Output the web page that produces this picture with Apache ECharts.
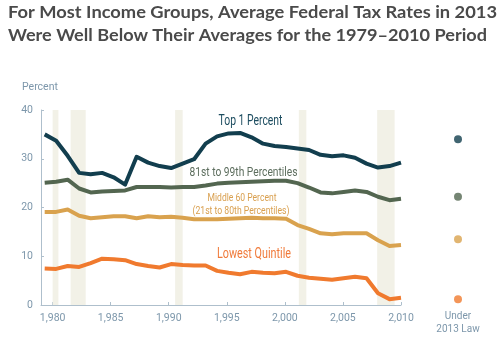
<!DOCTYPE html>
<html><head><meta charset="utf-8">
<script src="https://cdn.jsdelivr.net/npm/echarts@6/dist/echarts.min.js"></script>
<style>html,body{margin:0;padding:0;background:#fff}#c{width:504px;height:341px}</style>
</head><body><div id="c"></div>
<script>
const years = [1979,1980,1981,1982,1983,1984,1985,1986,1987,1988,1989,1990,1991,1992,1993,1994,1995,1996,1997,1998,1999,2000,2001,2002,2003,2004,2005,2006,2007,2008,2009,2010];
const top1 = [35.0,33.7,30.6,27.1,26.8,27.1,26.2,24.7,30.4,29.2,28.5,28.1,29.0,29.9,33.1,34.6,35.2,35.3,34.4,33.1,32.6,32.4,32.1,31.8,30.8,30.5,30.7,30.2,29.0,28.2,28.5,29.2];
const p81to99 = [25.1,25.3,25.7,23.9,23.1,23.3,23.4,23.5,24.2,24.2,24.2,24.1,24.2,24.2,24.5,24.9,25.1,25.2,25.3,25.4,25.5,25.5,25.0,24.1,23.1,22.9,23.2,23.5,23.2,22.2,21.5,21.8];
const middle60 = [19.1,19.1,19.6,18.3,17.8,18.0,18.2,18.2,17.8,18.2,18.0,18.1,17.9,17.6,17.6,17.6,17.7,17.8,17.9,17.8,17.8,17.7,16.4,15.6,14.7,14.5,14.7,14.7,14.7,13.3,12.1,12.3];
const lowest = [7.5,7.4,8.0,7.8,8.6,9.5,9.4,9.2,8.4,8.0,7.7,8.4,8.2,8.1,8.1,7.0,6.6,6.3,6.8,6.6,6.5,6.8,6.0,5.6,5.4,5.2,5.5,5.8,5.5,2.4,1.2,1.5];
const under2013 = [34.0, 22.2, 13.5, 1.2];
const under2013Label = ['Under\n2013 Law'];
const xTicks = [1980,1985,1990,1995,2000,2005,2010];
const recessions = [[1980.0,1980.5],[1981.55,1982.85],[1990.55,1991.2],[2001.2,2001.85],[2007.95,2009.45]];
const titleLines = ['For Most Income Groups, Average Federal Tax Rates in 2013','Were Well Below Their Averages for the 1979\u20132010 Period'];

const colors = ['#123e4e','#536650','#d9a24e','#f07a2e'];
const axisColor = '#aebfcc';
const labelColor = '#7d97ab';
const ff = "Roboto,sans-serif";

const mctx = document.createElement('canvas').getContext('2d');
function fit(text, font, w){ mctx.font = font; return w / mctx.measureText(text).width; }
function label(text, cx, cy, size, w, fill, weight){
  const font = (weight||'normal') + ' ' + size + 'px ' + ff;
  return {type:'text', x:cx, y:cy, scaleX:fit(text, font, w), silent:true, z:10,
    style:{text, fill, font, align:'center', verticalAlign:'middle'}};
}
function titleLine(text, y, w){
  const font = 'bold 17px Lato';
  return {type:'text', x:8, y, scaleX:fit(text, font, w), silent:true,
    style:{text, fill:'#4a4a4a', font, align:'left', verticalAlign:'middle'}};
}

const chart = echarts.init(document.getElementById('c'), null, {renderer:'canvas'});
const mk = (arr) => years.map((y,i)=>[y,arr[i]]);
const lineS = (name, arr, color) => ({
  name, type:'line', xAxisIndex:1, yAxisIndex:0, data:mk(arr), symbol:'none',
  lineStyle:{color, width:4, join:'round'}, itemStyle:{color}, z:3, silent:true, animation:false
});
chart.setOption({
  animation:false,
  grid:[{left:41, top:110, width:360, height:195},{left:438, top:110, width:40, height:195}],
  xAxis:[
    {gridIndex:0, type:'value', min:1979, max:2010,
      axisLine:{show:true, lineStyle:{color:axisColor, width:1}},
      axisTick:{show:true, inside:true, length:3, customValues:xTicks, lineStyle:{color:axisColor}},
      axisLabel:{customValues:xTicks, color:labelColor, fontSize:10.5, margin:8, fontFamily:ff},
      splitLine:{show:false}},
    {gridIndex:0, type:'value', min:1978.68, max:2010, show:false},
    {gridIndex:1, type:'category', data:under2013Label, axisLine:{show:false}, axisTick:{show:false},
      axisLabel:{color:labelColor, fontSize:10, lineHeight:13, margin:5, fontFamily:ff}}
  ],
  yAxis:[
    {gridIndex:0, type:'value', min:0, max:40, interval:10, name:'Percent', nameLocation:'end', nameGap:17,
      nameTextStyle:{color:labelColor, fontSize:10.5, fontFamily:ff, align:'left', padding:[0,0,0,-19]},
      axisLine:{show:true, lineStyle:{color:axisColor, width:1}},
      axisTick:{show:true, inside:true, length:3, lineStyle:{color:axisColor}},
      axisLabel:{color:labelColor, fontSize:10.5, margin:8, fontFamily:ff},
      splitLine:{show:false}},
    {gridIndex:1, type:'value', min:0, max:40, show:false}
  ],
  series:[
    {type:'line', xAxisIndex:0, yAxisIndex:0, data:[[1979,0]], symbol:'none', lineStyle:{opacity:0}, silent:true, z:1,
      markArea:{silent:true, itemStyle:{color:'#f2f1e7'}, data:recessions.map(r=>[{xAxis:r[0]},{xAxis:r[1]}])}},
    lineS('Top 1 Percent', top1, colors[0]),
    lineS('81st to 99th Percentiles', p81to99, colors[1]),
    lineS('Middle 60 Percent', middle60, colors[2]),
    lineS('Lowest Quintile', lowest, colors[3]),
    {type:'scatter', xAxisIndex:2, yAxisIndex:1, symbolSize:8, silent:true,
      data:under2013.map((v,i)=>({value:[0,v], itemStyle:{color:colors[i]}}))}
  ],
  graphic:[
    titleLine(titleLines[0], 13, 489),
    titleLine(titleLines[1], 36, 479),
    label('Top 1 Percent', 250.5, 121, 14, 64, '#1d4d60'),
    label('81st to 99th Percentiles', 243.5, 172.5, 12.8, 108, '#5d6e5e'),
    label('Middle 60 Percent', 242, 198, 10.5, 69, '#d9a050'),
    label('(21st to 80th Percentiles)', 241, 211, 10.5, 97, '#d9a050'),
    label('Lowest Quintile', 254, 254.5, 14, 74, '#f07a3a')
  ]
});
</script></body></html>
